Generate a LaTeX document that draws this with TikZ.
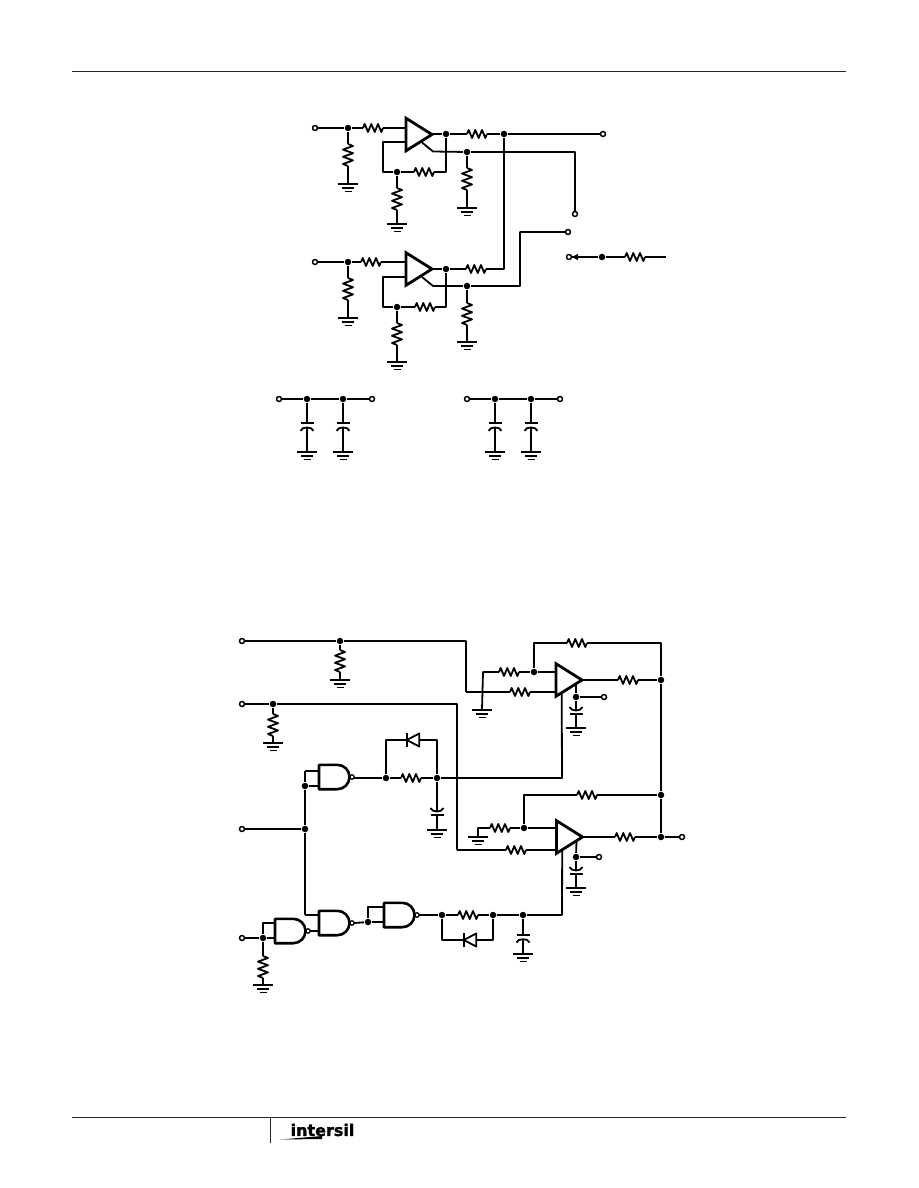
\documentclass[tikz,border=0pt]{standalone}
\usepackage{tikz}
\usepackage{fontspec}
\newfontfamily\logofont[FakeBold=1.6]{DejaVu Sans}
\tikzset{
  resh/.pic={
    \coordinate (-l) at (-10,0); \coordinate (-r) at (10,0);
    \draw (-10,0) -- (-8.3,-4) -- (-5,4) -- (-1.7,-4) -- (1.7,4) -- (5,-4) -- (8.3,4) -- (10,0);
  },
  resv/.pic={
    \coordinate (-t) at (0,-11); \coordinate (-b) at (0,11);
    \draw (0,-11) -- (5,-9) -- (-5,-5.4) -- (5,-1.8) -- (-5,1.8) -- (5,5.4) -- (-5,9) -- (0,11);
  },
  gnd/.pic={
    \coordinate (-t) at (0,0);
    \draw (-10,0) -- (10,0); \draw (-6,3.7) -- (6,3.7); \draw (-3.5,7.4) -- (3.5,7.4);
  },
  capflat/.pic={
    \coordinate (-t) at (0,0); \coordinate (-b) at (0,4.2);
    \draw (-6.5,0) -- (6.5,0);
    \draw (-6.5,7.5) .. controls +(1,-2.5) and +(-3,0) .. (0,4.2) .. controls +(3,0) and +(-1,-2.5) .. (6.5,7.5);
  },
  capcurve/.pic={
    \coordinate (-t) at (0,3.5); \coordinate (-b) at (0,7);
    \draw (-6.5,0) .. controls +(1,2.5) and +(-3,0) .. (0,3.5) .. controls +(3,0) and +(-1,2.5) .. (6.5,0);
    \draw (-6.5,7) -- (6.5,7);
  },
  amp/.pic={
    \coordinate (-w) at (0,0); \coordinate (-o) at (26,0);
    \coordinate (-x) at (16,8); \coordinate (-s) at (27,17);
    \coordinate (-u) at (20,4); \coordinate (-v) at (5.7,13);
    \draw[line width=2.8pt,line join=miter] (0,-16.3) -- (26,0) -- (0,16.3) -- cycle;
  },
  nand/.pic={
    \coordinate (-w) at (0,0); \coordinate (-o) at (35.2,0);
    \draw[line width=2.6pt] (0,-12.2) -- (18.3,-12.2) arc (-90:90:12.2) -- (0,12.2) -- cycle;
    \draw[line width=1.3pt] (33,0) circle (2.2);
  },
  diode/.pic={
    \coordinate (-l) at (-6.3,0); \coordinate (-r) at (6.3,0);
    \draw (-6.3,-7) -- (-6.3,7);
    \draw[fill=white] (-6.3,0) -- (6.3,-6.5) -- (6.3,6.5) -- cycle;
  }
}
\begin{document}
\begin{tikzpicture}[x=1pt, y=-1pt, line width=1.8pt, line join=round]
\tikzstyle{dot} = [shape = circle, fill = black, minimum size = 6.5pt, inner sep = 0pt]
\tikzstyle{term} = [shape = circle, draw, line width = 1.5pt, fill = white, minimum size = 5pt, inner sep = 0pt]
\tikzstyle{rule} = [line width = 1pt, color = black!85]
\useasboundingbox (0,0) rectangle (918,1188);
% page rules and logo
\coordinate (P-1) at (72,72); \coordinate (P-2) at (846,72);
\coordinate (P-3) at (72,1117); \coordinate (P-4) at (846,1117);
\coordinate (P-5) at (270,1117); \coordinate (P-6) at (270,1143);
\draw[rule] (P-1) -- (P-2);
\draw[rule] (P-3) -- (P-4);
\draw[rule] (P-5) -- (P-6);
\node[inner sep = 0pt] (logo) at (322.5,1130) [font = \logofont\bfseries\fontsize{16}{16}\selectfont] {intersil};
\fill (280,1139.5) -- (322,1136) -- (322,1139) -- cycle;
% upper amplifiers
\pic (A-1) at (406,134.5) {amp};
\pic (A-2) at (406,269) {amp};
\node[term] (T-1) at (315,128) {};
\node[term] (T-2) at (603,134) {};
\node[term] (T-3) at (575,214) {};
\node[term] (T-4) at (568,232) {};
\node[term] (T-5) at (569,257) {};
\node[term] (T-6) at (315,262) {};
\node[dot] (D-1) at (348,128) {};
\node[dot] (D-2) at (446,134) {};
\node[dot] (D-3) at (504,134) {};
\node[dot] (D-4) at (467,152) {};
\node[dot] (D-5) at (397,172) {};
\node[dot] (D-6) at (348,262) {};
\node[dot] (D-7) at (446,269) {};
\node[dot] (D-8) at (467,286) {};
\node[dot] (D-9) at (397,307) {};
\node[dot] (D-10) at (602,257) {};
\pic (R-1) at (373,128) {resh};
\pic (R-2) at (477,134) {resh};
\pic (R-3) at (424,172) {resh};
\pic (R-4) at (371,262) {resh};
\pic (R-5) at (476,269) {resh};
\pic (R-6) at (425,307) {resh};
\pic (R-7) at (635,257) {resh};
\pic (R-8) at (348,155) {resv};
\pic (R-9) at (467,179) {resv};
\pic (R-10) at (397,199) {resv};
\pic (R-11) at (348,289) {resv};
\pic (R-12) at (467,314) {resv};
\pic (R-13) at (397,334) {resv};
\pic (G-1) at (348,184) {gnd};
\pic (G-2) at (467,208) {gnd};
\pic (G-3) at (397,224) {gnd};
\pic (G-4) at (348,318) {gnd};
\pic (G-5) at (467,342) {gnd};
\pic (G-6) at (397,362) {gnd};
\coordinate (X-1) at (383,142);
\coordinate (X-2) at (383,277);
\coordinate (X-3) at (575,152);
\coordinate (X-4) at (520,286);
\coordinate (X-5) at (520,232);
\coordinate (X-6) at (666,257);
\draw (T-1) -- (D-1) -- (R-1-l);
\draw (R-1-r) -- (R-1-r -| A-1-w);
\draw (D-2 -| A-1-o) -- (D-2) -- (R-2-l);
\draw (R-2-r) -- (D-3) -- (T-2);
\draw (A-1-x) -- (A-1-s) -- (D-4) -- (X-3) -- (T-3);
\draw (X-1 -| A-1-w) -- (X-1) |- (D-5);
\draw (D-5) -- (R-3-l);
\draw (R-3-r) -| (D-2);
\draw (D-1) -- (R-8-t); \draw (R-8-b) -- (G-1-t);
\draw (D-4) -- (R-9-t); \draw (R-9-b) -- (G-2-t);
\draw (D-5) -- (R-10-t); \draw (R-10-b) -- (G-3-t);
\draw (T-6) -- (D-6) -- (R-4-l);
\draw (R-4-r) -- (R-4-r -| A-2-w);
\draw (A-2-o) -- (D-7) -- (R-5-l);
\draw (R-5-r) -| (D-3);
\draw (A-2-x) -- (A-2-s) -- (D-8) -- (X-4) -- (X-5) -- (T-4);
\draw (X-2 -| A-2-w) -- (X-2) |- (D-9);
\draw (D-9) -- (R-6-l);
\draw (R-6-r) -| (D-7);
\draw (D-6) -- (R-11-t); \draw (R-11-b) -- (G-4-t);
\draw (D-8) -- (R-12-t); \draw (R-12-b) -- (G-5-t);
\draw (D-9) -- (R-13-t); \draw (R-13-b) -- (G-6-t);
\draw (T-5) -- (D-10) -- (R-7-l);
\draw (R-7-r) -- (X-6);
\fill (572,257) -- (578,253.8) -- (578,260.2) -- cycle;
% decoupling
\node[term] (T-7) at (279,399) {};
\node[term] (T-8) at (372,399) {};
\node[term] (T-9) at (467,399) {};
\node[term] (T-10) at (560,399) {};
\node[dot] (D-11) at (307,399) {};
\node[dot] (D-12) at (343,399) {};
\node[dot] (D-13) at (495,399) {};
\node[dot] (D-14) at (531,399) {};
\draw (T-7) -- (D-11) -- (D-12) -- (T-8);
\draw (T-9) -- (D-13) -- (D-14) -- (T-10);
\foreach \n/\x [count=\i from 1] in {11/307,12/343,13/495,14/531} {
  \pic (C-\i) at (\x,423.3) {capflat};
  \pic (H-\i) at (\x,452) {gnd};
  \draw (D-\n) -- (C-\i-t);
  \draw (C-\i-b) -- (H-\i-t);
}
% lower amplifiers
\pic (A-3) at (556,680) {amp};
\pic (A-4) at (556.5,837) {amp};
\node[term] (T-11) at (242,641) {};
\node[term] (T-12) at (242,704) {};
\node[term] (T-13) at (242,829) {};
\node[term] (T-14) at (242,938) {};
\node[term] (T-15) at (604,697) {};
\node[term] (T-16) at (599,857) {};
\node[term] (T-17) at (682,837) {};
\node[dot] (D-15) at (340,641) {};
\node[dot] (D-16) at (273,704) {};
\node[dot] (D-17) at (305,786) {};
\node[dot] (D-18) at (305,829) {};
\node[dot] (D-19) at (386,778) {};
\node[dot] (D-20) at (437,778) {};
\node[dot] (D-21) at (534,672) {};
\node[dot] (D-22) at (661,680) {};
\node[dot] (D-23) at (576,697) {};
\node[dot] (D-24) at (661,795) {};
\node[dot] (D-25) at (524,828) {};
\node[dot] (D-26) at (661,837) {};
\node[dot] (D-27) at (576,857) {};
\node[dot] (D-28) at (523,915) {};
\node[dot] (D-29) at (493,915) {};
\node[dot] (D-30) at (442,915) {};
\node[dot] (D-31) at (368,922) {};
\node[dot] (D-32) at (263,938) {};
\pic (R-14) at (340,661) {resv};
\pic (R-15) at (273,725) {resv};
\pic (R-16) at (263,967) {resv};
\pic (R-17) at (411,778) {resh};
\pic (R-18) at (509,672) {resh};
\pic (R-19) at (520,692) {resh};
\pic (R-20) at (577,643) {resh};
\pic (R-21) at (628,680) {resh};
\pic (R-22) at (587,795) {resh};
\pic (R-23) at (500,828) {resh};
\pic (R-24) at (516,850) {resh};
\pic (R-25) at (625,837) {resh};
\pic (R-26) at (468,915) {resh};
\pic (G-7) at (340,680) {gnd};
\pic (G-8) at (273,743) {gnd};
\pic (G-9) at (263,985) {gnd};
\pic (G-10) at (437,830) {gnd};
\pic (G-11) at (482,710) {gnd};
\pic (G-12) at (576,728) {gnd};
\pic (G-13) at (478,837) {gnd};
\pic (G-14) at (576,888) {gnd};
\pic (G-15) at (523,954) {gnd};
\pic (C-5) at (437,808) {capcurve};
\pic (C-6) at (576,707) {capcurve};
\pic (C-7) at (576,867) {capcurve};
\pic (C-8) at (523,935) {capflat};
\pic (U-1) at (319,777) {nand};
\pic (U-2) at (319,923) {nand};
\pic (U-3) at (384,915) {nand};
\pic (U-4) at (275,931) {nand};
\pic (V-1) at (413,740) {diode};
\pic (V-2) at (470,940) {diode};
\coordinate (X-7) at (466,692);
\coordinate (X-8) at (457,850);
\coordinate (X-9) at (483,672);
\coordinate (X-10) at (534,643);
\coordinate (X-11) at (478,828);
\coordinate (X-12) at (524,795);
\coordinate (X-13) at (305,771);
\coordinate (X-14) at (305,915);
\coordinate (X-15) at (368,907);
\coordinate (X-16) at (263,923);
\coordinate (X-17) at (386,740);
\coordinate (X-18) at (437,740);
\coordinate (X-19) at (442,940);
\coordinate (X-20) at (493,940);
\coordinate (X-21) at (562,915);
\coordinate (X-22) at (562,778);
\coordinate (X-23) at (661,643);
\draw (T-11) -- (D-15) -| (X-7);
\draw (X-7) -- (R-19-l);
\draw (R-19-r) -- (R-19-r -| A-3-w);
\draw (D-15) -- (R-14-t); \draw (R-14-b) -- (G-7-t);
\draw (T-12) -- (D-16) -| (X-8);
\draw (X-8) -- (R-24-l);
\draw (R-24-r) -- (R-24-r -| A-4-w);
\draw (D-16) -- (R-15-t); \draw (R-15-b) -- (G-8-t);
\draw (G-11-t) -- (X-9) -- (R-18-l);
\draw (R-18-r) -- (D-21) -- (D-21 -| A-3-w);
\draw (D-21) -- (X-10) -- (R-20-l);
\draw (R-20-r) -- (X-23) -- (D-22) -- (D-24) -- (D-26);
\draw (A-3-o) -- (R-21-l);
\draw (R-21-r) -- (D-22);
\draw (A-3-u) -- (D-23) -- (C-6-t);
\draw (D-23) -- (T-15);
\draw (C-6-b) -- (G-12-t);
\draw (G-13-t) -- (X-11) -- (R-23-l);
\draw (R-23-r) -- (D-25) -- (D-25 -| A-4-w);
\draw (D-25) -- (X-12) -- (R-22-l);
\draw (R-22-r) -- (D-24);
\draw (A-4-o) -- (R-25-l);
\draw (R-25-r) -- (D-26) -- (T-17);
\draw (A-4-u) -- (D-27) -- (C-7-t);
\draw (D-27) -- (T-16);
\draw (C-7-b) -- (G-14-t);
% gates
\draw (X-13) -- (D-17) -- (D-18) -- (X-14);
\draw (T-13) -- (D-18);
\draw (X-13) -- (X-13 -| U-1-w);
\draw (D-17) -- (D-17 -| U-1-w);
\draw (U-1-o |- D-19) -- (D-19) -- (R-17-l);
\draw (R-17-r) -- (D-20) -- (X-22) -- (A-3-v);
\draw (D-19) -- (X-17) -- (V-1-l);
\draw (V-1-r) -- (X-18) -- (D-20);
\draw (D-20) -- (C-5-t);
\draw (C-5-b) -- (G-10-t);
\draw (X-14) -- (X-14 -| U-2-w);
\draw (U-4-o) -- (U-4-o -| U-2-w);
\draw (U-2-o) -- (D-31);
\draw (D-31) -- (D-31 -| U-3-w);
\draw (D-31) -- (X-15) -- (X-15 -| U-3-w);
\draw (U-3-o) -- (D-30) -- (R-26-l);
\draw (R-26-r) -- (D-29) -- (D-28) -- (X-21) -- (A-4-v);
\draw (D-30) -- (X-19) -- (V-2-l);
\draw (V-2-r) -- (X-20) -- (D-29);
\draw (D-28) -- (C-8-t);
\draw (C-8-b) -- (G-15-t);
\draw (T-14) -- (D-32) -- (D-32 -| U-4-w);
\draw (D-32) -- (X-16) -- (X-16 -| U-4-w);
\draw (D-32) -- (R-16-t); \draw (R-16-b) -- (G-9-t);
\end{tikzpicture}
\end{document}
